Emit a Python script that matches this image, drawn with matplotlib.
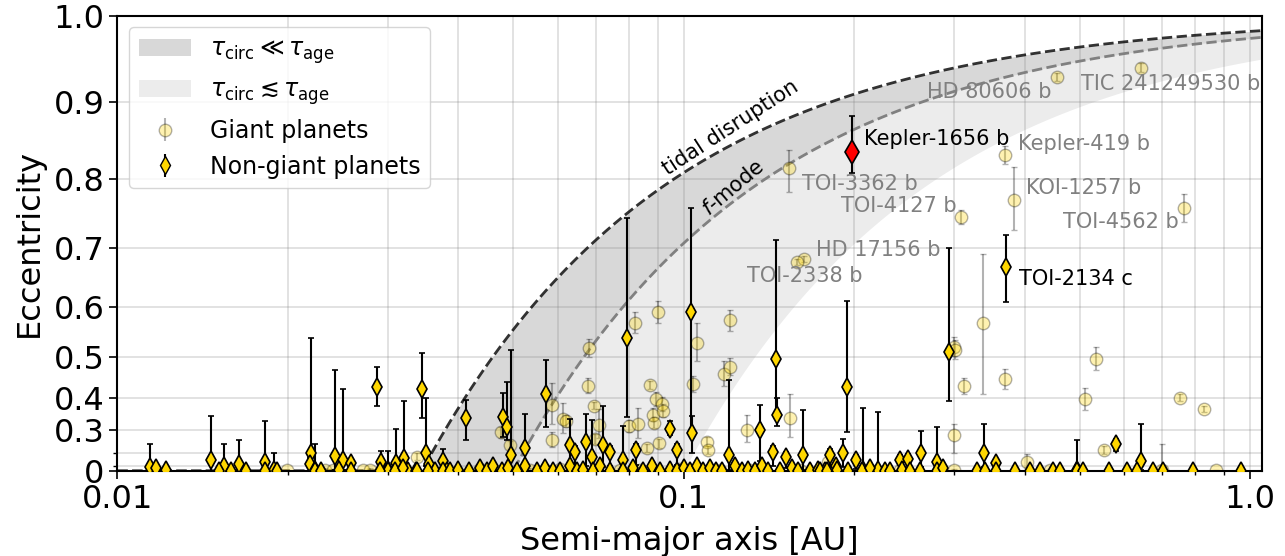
import numpy as np
import matplotlib
matplotlib.use("Agg")
import matplotlib.pyplot as plt
from matplotlib.patches import Patch
from matplotlib.ticker import FixedLocator, FixedFormatter, NullFormatter, LogLocator

plt.rcParams['font.family'] = ['DejaVu Sans']
plt.rcParams['path.simplify'] = False

# ==========================================
# data : non-giant planets (a [AU], e, lower err, upper err)
# ==========================================
ng_a = [0.0114, 0.0117, 0.0122, 0.0146, 0.0154, 0.0164, 0.0182, 0.0189, 0.0220, 0.0219,
        0.0223, 0.0242, 0.0250, 0.0259, 0.0287, 0.0292, 0.0301, 0.0310, 0.0320, 0.0345,
        0.0350, 0.0355, 0.0375, 0.0413, 0.0480, 0.0488, 0.0495, 0.0525, 0.0571, 0.0630,
        0.0643, 0.0671, 0.0689, 0.0719, 0.0741, 0.0782, 0.0793, 0.0823, 0.0946, 0.0972,
        0.1033, 0.1030, 0.1202, 0.1363, 0.1436, 0.1453, 0.1462, 0.1516, 0.1626, 0.1813,
        0.1940, 0.1913, 0.2014, 0.2070, 0.2201, 0.2409, 0.2492, 0.2621, 0.2797, 0.2944,
        0.3391, 0.3556, 0.3713, 0.4943, 0.5799, 0.6412]
ng_e = [0.09, 0.08, 0.05, 0.153, 0.10, 0.12, 0.14, 0.05, 0.195, 0.12,
        0.05, 0.18, 0.153, 0.13, 0.428, 0.14, 0.03, 0.133, 0.17, 0.425,
        0.20, 0.12, 0.148, 0.339, 0.343, 0.311, 0.186, 0.222, 0.41, 0.237,
        0.204, 0.252, 0.175, 0.237, 0.204, 0.153, 0.54, 0.213, 0.302, 0.213,
        0.287, 0.59, 0.186, 0.299, 0.204, 0.495, 0.35, 0.175, 0.186, 0.186,
        0.43, 0.195, 0.153, 0.03, 0.03, 0.153, 0.16, 0.195, 0.14, 0.51,
        0.195, 0.127, 0.6696, 0.03, 0.242, 0.146]
ng_elo = [0.09, 0.05, 0.05, 0.15, 0.10, 0.10, 0.12, 0.05, 0.15, 0.10,
          0.05, 0.15, 0.12, 0.10, 0.05, 0.10, 0.03, 0.10, 0.15, 0.086,
          0.10, 0.10, 0.10, 0.08, 0.07, 0.05, 0.15, 0.15, 0.10, 0.15,
          0.10, 0.15, 0.15, 0.15, 0.10, 0.15, 0.196, 0.10, 0.02, 0.10,
          0.09, 0.30, 0.15, 0.15, 0.10, 0.15, 0.035, 0.10, 0.15, 0.10,
          0.137, 0.10, 0.10, 0.03, 0.03, 0.10, 0.10, 0.10, 0.10, 0.12,
          0.10, 0.10, 0.061, 0.03, 0.032, 0.10]
ng_ehi = [0.15, 0.02, 0.02, 0.195, 0.14, 0.14, 0.19, 0.15, 0.345, 0.05,
          0.19, 0.29, 0.27, 0.03, 0.05, 0.07, 0.18, 0.17, 0.22, 0.083,
          0.20, 0.03, 0.07, 0.055, 0.07, 0.13, 0.33, 0.13, 0.083, 0.10,
          0.03, 0.10, 0.16, 0.14, 0.03, 0.16, 0.205, 0.03, 0.03, 0.03,
          0.06, 0.17, 0.26, 0.08, 0.03, 0.217, 0.05, 0.03, 0.18, 0.03,
          0.18, 0.07, 0.03, 0.34, 0.33, 0.03, 0.03, 0.10, 0.17, 0.19,
          0.125, 0.03, 0.05, 0.23, 0.022, 0.174]

# non-giant planets sitting on (or near) e = 0
flat_a = [0.0151, 0.0159, 0.0169, 0.0182, 0.0191, 0.0223, 0.0229, 0.0246, 0.0258, 0.0300,
          0.0326, 0.0337, 0.0363, 0.0382, 0.0291, 0.0309, 0.0319, 0.0338, 0.0353, 0.0376,
          0.0386, 0.0399, 0.0417, 0.0437, 0.0449, 0.0460, 0.0478, 0.0489, 0.0508, 0.0524,
          0.0551, 0.0569, 0.0588, 0.0605, 0.0630, 0.0648, 0.0664, 0.0692, 0.0712, 0.0741,
          0.0782, 0.0814, 0.0847, 0.0879, 0.0908, 0.0946, 0.0973, 0.1001, 0.1026, 0.1055,
          0.1081, 0.1113, 0.1140, 0.1169, 0.1232, 0.1268, 0.1299, 0.1336, 0.1375, 0.1409,
          0.1479, 0.1553, 0.1592, 0.1671, 0.1726, 0.1776, 0.1858, 0.1741, 0.1789, 0.1863,
          0.1952, 0.2062, 0.2133, 0.2267, 0.2313, 0.2426, 0.2509, 0.2613, 0.2797, 0.2866,
          0.3291, 0.3404, 0.3556, 0.3846, 0.4088, 0.4257, 0.4483, 0.4618, 0.4943, 0.5077,
          0.5643, 0.6057, 0.6308, 0.6751, 0.7031, 0.7920, 0.9641]
flat_e = [0.0, 0.0, 0.0, 0.0, 0.0, 0.0, 0.0, 0.05, 0.0, 0.0,
          0.0, 0.0, 0.0, 0.0, 0.0, 0.0, 0.08, 0.0, 0.0, 0.0,
          0.0, 0.05, 0.0, 0.08, 0.0, 0.1, 0.0, 0.08, 0.0, 0.1,
          0.0, 0.08, 0.0, 0.0, 0.1, 0.0, 0.05, 0.0, 0.1, 0.0,
          0.0, 0.08, 0.0, 0.1, 0.0, 0.05, 0.0, 0.08, 0.0, 0.1,
          0.0, 0.08, 0.0, 0.0, 0.1, 0.0, 0.05, 0.0, 0.1, 0.0,
          0.0, 0.08, 0.0, 0.0, 0.05, 0.0, 0.1, 0.0, 0.0, 0.05,
          0.0, 0.0, 0.08, 0.0, 0.0, 0.05, 0.0, 0.0, 0.0, 0.08,
          0.0, 0.0, 0.0, 0.0, 0.0, 0.0, 0.0, 0.0, 0.0, 0.0,
          0.0, 0.0, 0.0, 0.0, 0.0, 0.0, 0.0]

# Kepler-1656 b (highlighted)
kep_a = 0.198
kep_e = 0.837
kep_elo = 0.028
kep_ehi = 0.046

# ==========================================
# data : giant planets
# ==========================================
gp_a = [0.4557, 0.641, 0.370, 0.3826, 0.766, 0.1535, 0.3086, 0.163, 0.1584,
        0.0681, 0.0820, 0.0900, 0.1207, 0.0678, 0.0693, 0.0585, 0.0872, 0.0892, 0.0914,
        0.0884, 0.0918, 0.0887, 0.1040, 0.1057, 0.1178, 0.1207, 0.0613, 0.0619, 0.0709,
        0.0800, 0.0831, 0.1292, 0.1540, 0.0476, 0.0585, 0.0697, 0.0860, 0.0904, 0.1098,
        0.1105, 0.0493, 0.0338, 0.3005, 0.3013, 0.3130, 0.3373, 0.3698, 0.3005, 0.5112,
        0.5346, 0.5522, 0.7533, 0.8304, 0.1800,
        0.0199, 0.0233, 0.0240, 0.0271, 0.0279, 0.0437, 0.0455, 0.0535, 0.0569, 0.0605,
        0.0772, 0.0837, 0.0985, 0.1068, 0.1159, 0.1310, 0.1604, 0.2133, 0.2406, 0.3005,
        0.4033, 0.6978, 0.8726, 0.4434]
gp_e = [0.930, 0.941, 0.833, 0.772, 0.760, 0.815, 0.747, 0.6816, 0.677,
        0.519, 0.570, 0.590, 0.575, 0.432, 0.378, 0.380, 0.434, 0.396, 0.382,
        0.350, 0.362, 0.325, 0.436, 0.530, 0.461, 0.478, 0.336, 0.330, 0.317,
        0.313, 0.320, 0.299, 0.341, 0.290, 0.260, 0.263, 0.222, 0.245, 0.252,
        0.213, 0.237, 0.175, 0.522, 0.515, 0.431, 0.570, 0.448, 0.280, 0.396,
        0.496, 0.213, 0.401, 0.368, 0.140,
        0.03, 0.05, 0.04, 0.03, 0.05, 0.06, 0.04, 0.05, 0.03, 0.06,
        0.05, 0.04, 0.06, 0.03, 0.05, 0.04, 0.05, 0.04, 0.03, 0.04,
        0.14, 0.05, 0.03, 0.04]
gp_elo = [0.005, 0.005, 0.012, 0.045, 0.02, 0.032, 0.01, 0.005, 0.005,
          0.02, 0.02, 0.02, 0.02, 0.02, 0.01, 0.06, 0.01, 0.02, 0.02,
          0.02, 0.02, 0.02, 0.02, 0.04, 0.03, 0.02, 0.05, 0.02, 0.05,
          0.02, 0.05, 0.05, 0.07, 0.02, 0.03, 0.02, 0.02, 0.02, 0.02,
          0.02, 0.02, 0.02, 0.02, 0.02, 0.02, 0.16, 0.025, 0.08, 0.03,
          0.025, 0.02, 0.01, 0.01, 0.07,
          0.02, 0.02, 0.02, 0.02, 0.02, 0.02, 0.02, 0.02, 0.02, 0.02,
          0.02, 0.02, 0.02, 0.02, 0.02, 0.02, 0.02, 0.02, 0.02, 0.02,
          0.05, 0.05, 0.02, 0.02]
gp_ehi = [0.005, 0.005, 0.012, 0.045, 0.02, 0.024, 0.01, 0.005, 0.005,
          0.02, 0.02, 0.02, 0.02, 0.02, 0.01, 0.06, 0.01, 0.02, 0.02,
          0.02, 0.02, 0.02, 0.02, 0.04, 0.03, 0.02, 0.05, 0.02, 0.05,
          0.02, 0.05, 0.05, 0.07, 0.02, 0.03, 0.02, 0.02, 0.02, 0.02,
          0.02, 0.02, 0.02, 0.02, 0.02, 0.02, 0.12, 0.025, 0.04, 0.03,
          0.025, 0.02, 0.01, 0.01, 0.07,
          0.02, 0.02, 0.02, 0.02, 0.02, 0.02, 0.02, 0.02, 0.02, 0.02,
          0.02, 0.02, 0.02, 0.02, 0.02, 0.02, 0.02, 0.02, 0.02, 0.02,
          0.05, 0.19, 0.02, 0.02]

# first entries of gp_* are the labelled giants
gp_names = ["HD 80606 b", "TIC 241249530 b", "Kepler-419 b", "KOI-1257 b", "TOI-4562 b",
            "TOI-3362 b", "TOI-4127 b", "HD 17156 b", "TOI-2338 b"]

# boundary curves a(1-e^2) = const [AU]
c_tidal = 0.0345
c_fmode = 0.050
c_circ = 0.100


def ecc_curve(a, c):
    return np.sqrt(np.clip(1.0 - c / a, 0.0, 1.0))


def fwd(e):
    return np.sign(e) * e ** 2


def inv(y):
    return np.sign(y) * np.sqrt(np.abs(y))


# ==========================================
# plot
# ==========================================
fig = plt.figure(figsize=(12.85, 5.56), dpi=100)
ax = fig.add_axes([0.0914, 0.1534, 0.8907, 0.8184])
ax.set_xscale('log')
ax.set_yscale('function', functions=(fwd, inv))

agrid = np.logspace(-2, np.log10(1.05), 2000)
e_td = ecc_curve(agrid, c_tidal)
e_fm = ecc_curve(agrid, c_fmode)
e_cc = ecc_curve(agrid, c_circ)

ax.fill_between(agrid, e_fm, e_td, color='gray', alpha=0.3, lw=0, zorder=0)
ax.fill_between(agrid, e_cc, e_fm, color='gray', alpha=0.15, lw=0, zorder=0)
ax.plot(agrid, e_td, '--', color='k', alpha=0.8, lw=2, zorder=1)
ax.plot(agrid, e_fm, '--', color='gray', lw=2, zorder=1)

# giant planets
gp_a_arr = np.array(gp_a)
gp_e_arr = np.array(gp_e)
gp_lo = np.minimum(np.array(gp_elo), gp_e_arr)
ax.errorbar(gp_a_arr, gp_e_arr, yerr=[gp_lo, gp_ehi], fmt='o', ms=9, mfc='gold',
            mec='k', ecolor='k', elinewidth=1.5, capsize=2, alpha=0.3, zorder=2)

# non-giant planets
ng_e_arr = np.array(ng_e)
ng_lo = np.minimum(np.array(ng_elo), ng_e_arr)
ax.errorbar(ng_a, ng_e_arr, yerr=[ng_lo, ng_ehi], fmt='d', ms=9, mfc='gold',
            mec='k', mew=1.2, ecolor='k', elinewidth=1.5, capsize=2.5, zorder=3)
ax.errorbar(flat_a, flat_e, yerr=[flat_e, [0.03] * len(flat_e)], fmt='d', ms=9, mfc='gold',
            mec='k', mew=1.2, ecolor='k', elinewidth=1.5, capsize=2.5, zorder=3)
ax.errorbar([kep_a], [kep_e], yerr=[[kep_elo], [kep_ehi]], fmt='d', ms=12, mfc='red',
            mec='k', mew=1.2, ecolor='k', elinewidth=1.5, capsize=2.5, zorder=4)

# labels
offsets = [(-4, -11, 'right'), (-43, -12, 'left'), (9, 8, 'left'), (9, 8, 'left'),
           (-4, -10, 'right'), (9, -11, 'left'), (-3, 8, 'right'), (9, 7, 'left'),
           (6, -10, 'center')]
for name, a, e, (dx, dy, ha) in zip(gp_names, gp_a, gp_e, offsets):
    ax.annotate(name, (a, e), xytext=(dx, dy), textcoords='offset points',
                ha=ha, va='center', fontsize=15, color='gray', zorder=5)
ax.annotate("Kepler-1656 b", (kep_a, kep_e), xytext=(9, 9), textcoords='offset points',
            ha='left', va='center', fontsize=15, color='k', zorder=5)
ax.annotate("TOI-2134 c", (ng_a[62], ng_e[62]), xytext=(9, -9), textcoords='offset points',
            ha='left', va='center', fontsize=15, color='k', zorder=5)

ax.text(0.121, 0.868, "tidal disruption", rotation=33, ha='center', va='center', fontsize=15)
ax.text(0.1222, 0.789, r"$f$-mode", rotation=40, ha='center', va='center', fontsize=15)

# axes
ax.set_xlim(0.01, 1.05)
ax.set_ylim(0, 1.0)
ax.xaxis.set_major_locator(FixedLocator([0.01, 0.1, 1.0]))
ax.xaxis.set_major_formatter(FixedFormatter(["0.01", "0.1", "1.0"]))
ax.xaxis.set_minor_locator(LogLocator(base=10, subs=np.arange(2, 10)))
ax.xaxis.set_minor_formatter(NullFormatter())
yt = [0, 0.3, 0.4, 0.5, 0.6, 0.7, 0.8, 0.9, 1.0]
ax.yaxis.set_major_locator(FixedLocator(yt))
ax.yaxis.set_major_formatter(FixedFormatter(["0", "0.3", "0.4", "0.5", "0.6", "0.7", "0.8", "0.9", "1.0"]))
ax.yaxis.set_minor_locator(FixedLocator([0.1, 0.2]))
ax.tick_params(axis='both', which='major', labelsize=23, length=6, width=1.2)
ax.tick_params(axis='both', which='minor', length=3, width=1)
ax.grid(True, which='both', color='gray', alpha=0.25, lw=1.3, zorder=0)
ax.set_axisbelow(True)
for s in ax.spines.values():
    s.set_linewidth(1.5)

ax.set_xlabel("Semi-major axis [AU]", fontsize=23, labelpad=8)
ax.set_ylabel("Eccentricity", fontsize=23, labelpad=6)

# legend
h_dark = Patch(facecolor='gray', alpha=0.3, edgecolor='none')
h_light = Patch(facecolor='gray', alpha=0.15, edgecolor='none')
h_gp = ax.errorbar([], [], yerr=[], fmt='o', ms=9, mfc='gold', mec='k', ecolor='k',
                   capsize=2, alpha=0.3)
h_ng = ax.errorbar([], [], yerr=[], fmt='d', ms=9, mfc='gold', mec='k', ecolor='k',
                   capsize=2.5)
ax.legend([h_dark, h_light, h_gp, h_ng],
          [r"$\tau_{\rm circ} \ll \tau_{\rm age}$", r"$\tau_{\rm circ}\lesssim\tau_{\rm age}$",
           "Giant planets", "Non-giant planets"],
          loc='upper left', fontsize=17, handlelength=2.2)

fig.savefig("out.png", dpi=100)
